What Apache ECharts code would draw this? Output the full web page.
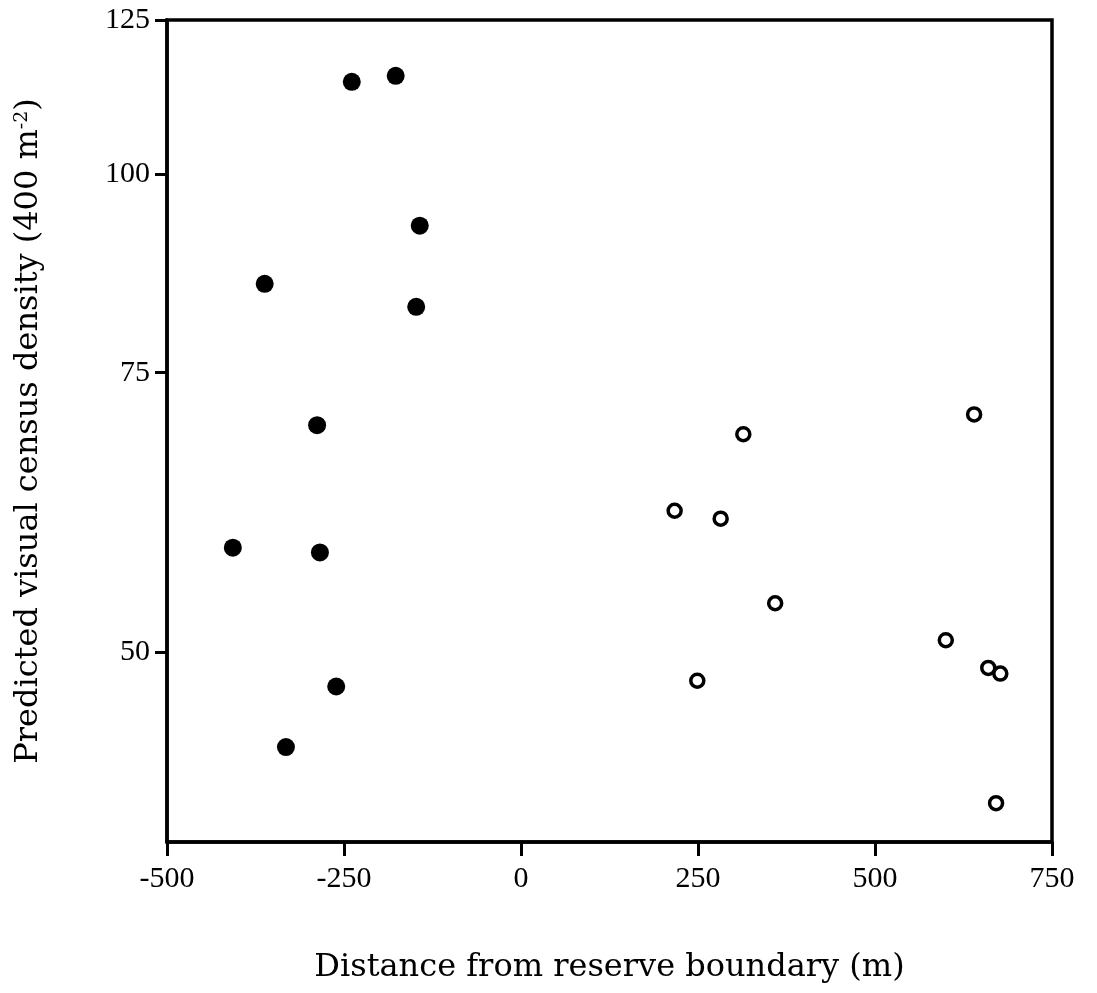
<!DOCTYPE html>
<html>
<head>
<meta charset="utf-8">
<script src="https://cdn.jsdelivr.net/npm/echarts@6/dist/echarts.min.js"></script>
<style>html,body{margin:0;padding:0;background:#fff;}#c{width:1097px;height:993px;}</style>
</head>
<body>
<div id="c"></div>
<script>
// Inside reserve (filled circles): distance (m), predicted density
const insideX = [-239, -177, -143, -362, -148, -288, -407, -284, -261, -332];
const insideY = [114.3, 115.3, 92.8, 85.3, 82.5, 69.5, 58.2, 57.8, 47.6, 43.6];
// Outside reserve (open circles)
const outsideX = [217, 282, 314, 640, 359, 600, 249, 660, 677, 671];
const outsideY = [61.4, 60.7, 68.6, 70.6, 53.7, 50.9, 48.0, 48.9, 48.5, 40.2];
const xTicks = [-500, -250, 0, 250, 500, 750];
const yTicks = [50, 75, 100, 125];

const font = 'Liberation Serif';
const titleFont = 'DejaVu Serif';
const chart = echarts.init(document.getElementById('c'), null, {renderer: 'canvas'});
chart.setOption({
  backgroundColor: '#fff',
  animation: false,
  grid: {left: 167, right: 45, top: 20, bottom: 151, show: true, borderColor: '#000', borderWidth: 3.5, backgroundColor: 'transparent'},
  xAxis: {
    type: 'value', min: -500, max: 750, interval: 250,
    name: 'Distance from reserve boundary (m)', nameLocation: 'middle', nameGap: 110,
    nameTextStyle: {fontFamily: titleFont, fontSize: 32, color: '#000'},
    axisLine: {show: true, onZero: false, lineStyle: {color: '#000', width: 3.5}},
    axisTick: {show: true, length: 14, lineStyle: {color: '#000', width: 3}},
    axisLabel: {fontFamily: font, fontSize: 30, color: '#000', margin: 22,
      customValues: xTicks, formatter: v => String(v)},
    splitLine: {show: false}
  },
  yAxis: {
    type: 'log', min: 38, max: 125,
    name: '{a|Predicted visual census density (400 m}{s|-2}{a|)}', nameLocation: 'middle', nameGap: 122,
    nameTextStyle: {fontFamily: titleFont, fontSize: 32, color: '#000', padding: [0, 0, 0, 0],
      rich: {a: {fontFamily: titleFont, fontSize: 32, color: '#000'}, s: {fontFamily: titleFont, fontSize: 19, color: '#000', verticalAlign: 'top'}}},
    axisLine: {show: true, onZero: false, lineStyle: {color: '#000', width: 3.5}},
    axisTick: {show: true, length: 12, lineStyle: {color: '#000', width: 3}, customValues: yTicks},
    axisLabel: {fontFamily: font, fontSize: 30, color: '#000', margin: 17,
      customValues: yTicks, formatter: v => String(Math.round(v))},
    splitLine: {show: false},
    minorTick: {show: false}
  },
  series: [
    {
      type: 'scatter', name: 'inside',
      data: insideX.map((x, i) => [x, insideY[i]]),
      symbol: 'circle', symbolSize: 18,
      itemStyle: {color: '#000', opacity: 1}
    },
    {
      type: 'scatter', name: 'outside',
      data: outsideX.map((x, i) => [x, outsideY[i]]),
      symbol: 'circle', symbolSize: 13,
      itemStyle: {color: '#fff', borderColor: '#000', borderWidth: 3.5, opacity: 1}
    }
  ]
});
</script>
</body>
</html>
